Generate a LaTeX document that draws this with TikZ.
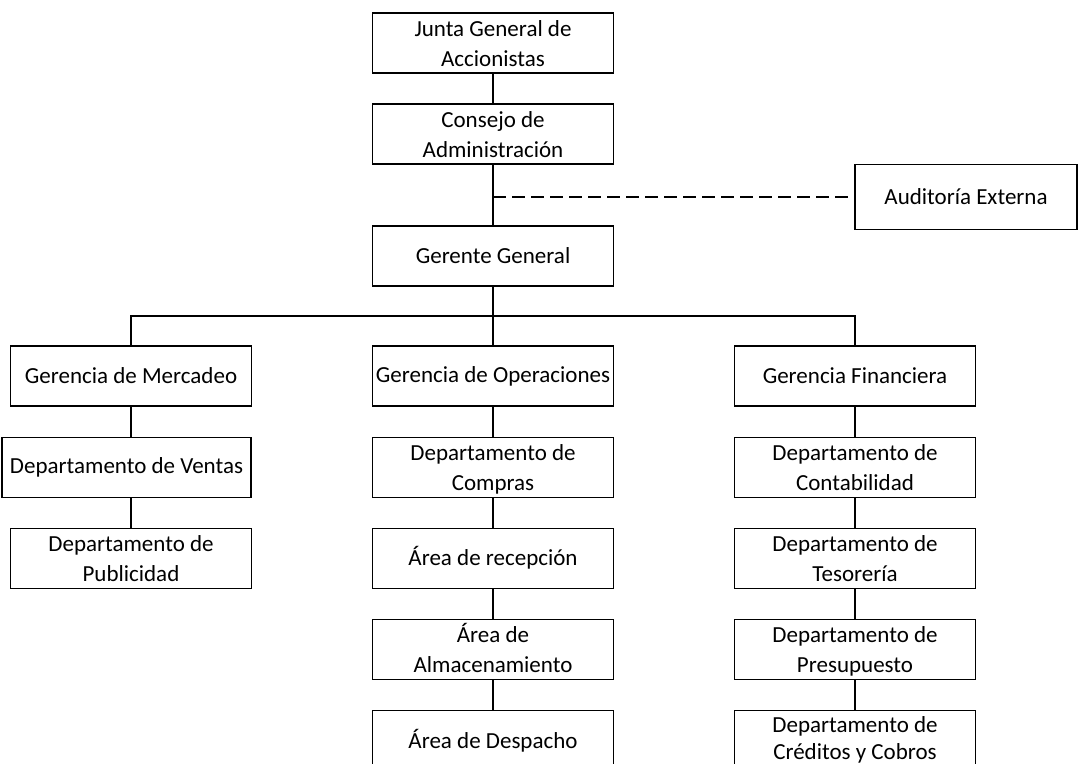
\documentclass[tikz,border=0pt]{standalone}
\usepackage{fontspec}
\setmainfont{Carlito}
\usetikzlibrary{positioning}
\tikzset{caja/.style = {draw, rectangle, line width=1.1pt,
                        minimum width=241pt, minimum height=60pt,
                        inner xsep=2pt, inner ysep=0pt, align=center,
                        font=\fontsize{23}{30}\selectfont}}
\tikzset{linea/.style = {line width=1.1pt}}
\tikzset{discontinua/.style = {line width=2.6pt, dash pattern=on 13pt off 6pt}}
\newcommand{\arriba}{\rule{0pt}{22pt}}
\newcommand{\abajo}[1][6pt]{\rule[-#1]{0pt}{#1}}

\begin{document}
\begin{tikzpicture}[x=1pt, y=-1pt, node distance=30pt]
    \useasboundingbox (0, 0) rectangle (1083, 763);
    \fill [white] (0, 0) rectangle (1083, 763);

    \node [caja] (junta) at (493, 43) {\arriba Junta General de\\Accionistas\abajo};
    \node [caja] (consejo) at (493, 134) {\arriba Consejo de\\Administración\abajo};
    \node [caja] (gerente) at (493, 256) {Gerente General};
    \node [caja, minimum width=222pt, minimum height=65pt] (auditoria) at (966, 197) {Auditoría Externa};

    \node [caja] (mercadeo) at (131, 376) {Gerencia de Mercadeo};
    \node [caja, minimum width=249pt, below=of mercadeo, xshift=-4.5pt] (ventas) {Departamento de Ventas};
    \node [caja, below=of ventas, xshift=4.5pt] (publicidad) {\arriba Departamento de\\Publicidad\abajo};

    \node [caja] (operaciones) at (493, 376) {Gerencia de Operaciones};
    \node [caja, below=of operaciones] (compras) {\arriba Departamento de\\Compras\abajo};
    \node [caja, below=of compras] (recepcion) {Área de recepción};
    \node [caja, below=of recepcion] (almacen) {\arriba Área de\\Almacenamiento\abajo};
    \node [caja, below=of almacen] (despacho) {Área de Despacho};

    \node [caja] (financiera) at (855, 376) {Gerencia Financiera};
    \node [caja, below=of financiera] (contabilidad) {\arriba Departamento de\\Contabilidad\abajo};
    \node [caja, below=of contabilidad] (tesoreria) {\arriba Departamento de\\Tesorería\abajo};
    \node [caja, below=of tesoreria] (presupuesto) {\arriba Departamento de\\Presupuesto\abajo};
    \node [caja, below=of presupuesto, font=\fontsize{23}{27}\selectfont] (creditos)
          {\arriba Departamento de\\Créditos y Cobros\abajo[10pt]};

    \coordinate (cruce) at (consejo.south |- auditoria.west);
    \coordinate (bus) at (493, 316);

    \draw [linea] (junta) -- (consejo);
    \draw [linea] (consejo) -- (gerente);
    \draw [discontinua] (cruce) -- (auditoria);

    \draw [linea] (gerente) -- (bus);
    \draw [linea] (bus) -| (mercadeo.north);
    \draw [linea] (bus) -- (operaciones);
    \draw [linea] (bus) -| (financiera.north);

    \draw [linea] (mercadeo) -- (mercadeo |- ventas.north);
    \draw [linea] (mercadeo |- ventas.south) -- (publicidad);

    \draw [linea] (operaciones) -- (compras);
    \draw [linea] (compras) -- (recepcion);
    \draw [linea] (recepcion) -- (almacen);
    \draw [linea] (almacen) -- (despacho);

    \draw [linea] (financiera) -- (contabilidad);
    \draw [linea] (contabilidad) -- (tesoreria);
    \draw [linea] (tesoreria) -- (presupuesto);
    \draw [linea] (presupuesto) -- (creditos);
\end{tikzpicture}
\end{document}
